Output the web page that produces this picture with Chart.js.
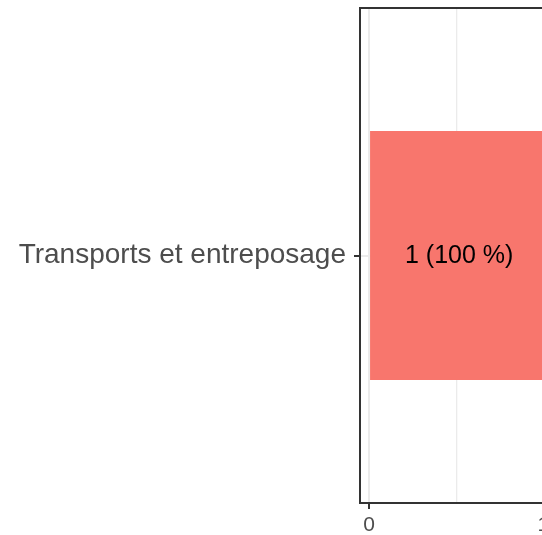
<!DOCTYPE html>
<html>
<head>
<meta charset="utf-8">
<script src="https://cdn.jsdelivr.net/npm/chart.js@4"></script>
<style>
  html, body { margin: 0; padding: 0; background: #fff; overflow: hidden; }
  #wrap { width: 542px; height: 535px; overflow: hidden; }
  #wrap div { width: 600px; height: 535px; }
</style>
</head>
<body>
<div id="wrap"><div><canvas id="chart"></canvas></div></div>
<script>
// data
const categories = ['Transports et entreposage'];
const counts = [1];
const labels = ['1 (100 %)'];
const xTicks = [0, 0.5, 1];
const xMin = -0.052;
const xMax = 1.05;

const textColor = '#4d4d4d';
const fontFamily = '"Liberation Sans", Arial, sans-serif';

// cadre du panneau + etiquettes dans les barres
const panelPlugin = {
    id: 'panel',
    afterDatasetsDraw(chart) {
        const ctx = chart.ctx;
        const meta = chart.getDatasetMeta(0);
        const xs = chart.scales.x;
        ctx.save();
        ctx.fillStyle = '#000';
        ctx.font = '25px ' + fontFamily;
        ctx.textAlign = 'center';
        ctx.textBaseline = 'middle';
        meta.data.forEach((bar, i) => {
            ctx.fillText(labels[i], xs.getPixelForValue(counts[i] / 2) + 3, bar.y + 1);
        });
        ctx.restore();
    },
    afterDraw(chart) {
        const a = chart.chartArea;
        const ctx = chart.ctx;
        ctx.save();
        ctx.strokeStyle = '#333333';
        ctx.lineWidth = 2;
        ctx.strokeRect(a.left, a.top, a.right - a.left, a.bottom - a.top);
        ctx.restore();
    }
};

const ctx = document.getElementById('chart').getContext('2d');
const chart = new Chart(ctx, {
    type: 'bar',
    data: {
        labels: categories,
        datasets: [{
            data: counts,
            backgroundColor: '#F8766D',
            borderWidth: 0,
            barPercentage: 0.503,
            categoryPercentage: 1,
        }]
    },
    options: {
        indexAxis: 'y',
        responsive: true,
        maintainAspectRatio: false,
        animation: false,
        layout: { padding: { top: 8, right: 48, left: 0, bottom: 0 } },
        plugins: {
            legend: { display: false },
            tooltip: { enabled: false }
        },
        scales: {
            x: {
                min: xMin,
                max: xMax,
                afterBuildTicks: (scale) => {
                    scale.ticks = xTicks.map(v => ({ value: v }));
                },
                afterFit: (scale) => {
                    scale.height = 32;
                    scale.paddingLeft = 0;
                    scale.paddingRight = 0;
                },
                grid: {
                    color: '#ebebeb',
                    lineWidth: (c) => (c.tick && c.tick.value % 1 === 0) ? 2 : 1.3,
                    tickColor: (c) => (c.tick && c.tick.value % 1 === 0) ? '#333333' : 'rgba(0,0,0,0)',
                    tickLength: 6,
                    tickWidth: 2,
                },
                border: { display: false },
                ticks: {
                    color: textColor,
                    padding: 4,
                    maxRotation: 0,
                    font: { size: 21, family: fontFamily },
                    callback: (v) => (v % 1 === 0) ? String(v) : ''
                }
            },
            y: {
                afterFit: (scale) => {
                    scale.width = 360;
                    scale.paddingTop = 0;
                    scale.paddingBottom = 0;
                },
                grid: {
                    offset: false,
                    color: '#ebebeb',
                    lineWidth: 2,
                    tickColor: '#333333',
                    tickLength: 6,
                    tickWidth: 2,
                },
                border: { display: false },
                ticks: {
                    color: textColor,
                    padding: 8,
                    font: { size: 28, family: fontFamily }
                }
            }
        }
    },
    plugins: [panelPlugin]
});
</script>
</body>
</html>
